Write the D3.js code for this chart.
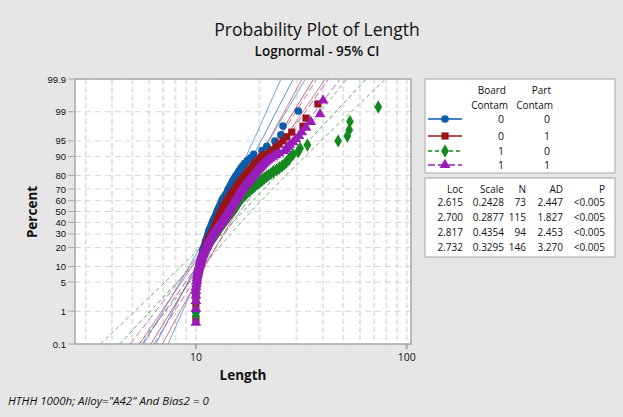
<!DOCTYPE html>
<html><head><meta charset="utf-8">
<script src="https://cdn.jsdelivr.net/npm/d3@7"></script>
<style>
body{margin:0;background:#E6E6E6;}
svg{display:block;}
text{font-family:"Open Sans","Noto Sans",sans-serif;fill:#111;}
text.ytl{font-family:"Liberation Sans",Arial,sans-serif;}
</style></head><body>
<svg id="chart" width="623" height="417"></svg>
<script>
// ---------- data ----------
const boardContam = ["0","0","1","1"];
const partContam  = ["0","1","0","1"];
const locs   = [2.615, 2.700, 2.817, 2.732];
const scales = [0.2428, 0.2877, 0.4354, 0.3295];
const ns     = [73, 115, 94, 146];
const pvals  = ["<0.005","<0.005","<0.005","<0.005"];
const locLabels   = ["2.615","2.700","2.817","2.732"];
const scaleLabels = ["0.2428","0.2877","0.4354","0.3295"];
const adLabels    = ["2.447","1.827","2.453","3.270"];

const lenB0P0 = [10.0,10.0,10.0,10.1,10.1,10.2,10.3,10.35,10.4,10.5,10.6,10.7,10.8,10.8,10.9,11.0,11.1,11.1,11.2,11.3,
 11.35,11.4,11.5,11.5,11.6,11.7,11.8,11.9,11.95,12.0,12.1,12.2,12.3,12.4,12.5,12.55,12.6,12.7,12.8,12.9,
 13.0,13.1,13.2,13.3,13.35,13.5,13.7,13.8,14.0,14.1,14.2,14.3,14.5,14.6,14.8,14.9,15.1,15.3,15.5,15.8,
 16.0,16.3,16.6,17.0,17.5,18.2,18.8,20.6,21.7,23.7,25.3,25.9,30.6];
const lenB0P1 = [10.0,10.0,10.0,10.0,10.1,10.1,10.2,10.2,10.3,10.4,10.4,10.5,10.55,10.6,10.65,10.7,10.75,10.8,10.85,
 10.9,11.0,11.05,11.1,11.15,11.2,11.25,11.3,11.4,11.45,11.5,11.6,11.7,11.75,11.8,11.9,12.0,12.1,12.15,12.2,
 12.25,12.3,12.35,12.4,12.45,12.5,12.55,12.6,12.7,12.75,12.8,12.85,12.9,13.0,13.05,13.1,13.15,13.2,13.3,13.35,
 13.4,13.5,13.55,13.6,13.7,13.8,13.9,13.95,14.0,14.1,14.2,14.3,14.4,14.5,14.6,14.7,14.8,14.9,15.05,15.2,
 15.3,15.4,15.5,15.7,15.8,15.9,16.0,16.2,16.4,16.5,16.7,16.9,17.1,17.3,17.5,17.7,17.9,18.2,18.5,18.7,
 19.0,19.3,19.7,20.1,20.5,21.0,22.4,23.2,24.0,24.8,25.9,27.0,28.5,32.2,33.3,37.9];
const lenB1P0 = [10.0,10.0,10.0,10.05,10.1,10.1,10.15,10.2,10.3,10.45,10.55,10.65,10.75,10.85,10.95,11.05,11.15,11.25,11.4,11.5,
 11.6,11.7,11.8,11.9,12.05,12.15,12.3,12.4,12.5,12.65,12.75,12.9,13.0,13.1,13.25,13.35,13.5,13.6,13.75,13.9,
 14.0,14.15,14.25,14.4,14.5,14.65,14.8,14.95,15.1,15.25,15.4,15.5,15.65,15.8,15.95,16.05,16.2,16.35,16.5,16.7,
 16.9,17.1,17.4,17.6,17.9,18.2,18.5,18.8,19.1,19.5,19.9,20.3,20.7,21.1,21.6,22.1,22.7,23.3,24.1,24.9,
 25.6,26.3,26.9,27.6,28.0,28.9,30.5,31.2,33.8,47.3,52.3,53.4,53.8,73.3];
const lenB1P1 = [10.0,10.0,10.0,10.0,10.0,10.0,10.05,10.1,10.1,10.15,10.2,10.2,10.25,10.3,10.35,10.4,10.45,10.5,10.55,10.6,
 10.65,10.7,10.75,10.8,10.85,10.9,10.95,11.0,11.1,11.15,11.2,11.25,11.3,11.35,11.4,11.5,11.55,11.6,11.7,11.75,
 11.8,11.9,11.95,12.0,12.1,12.2,12.25,12.3,12.4,12.5,12.55,12.65,12.7,12.8,12.85,12.95,13.0,13.1,13.2,13.25,
 13.3,13.4,13.5,13.55,13.6,13.7,13.75,13.85,13.9,14.0,14.05,14.1,14.2,14.3,14.35,14.4,14.5,14.55,14.6,14.7,
 14.75,14.8,14.9,15.0,15.05,15.1,15.2,15.25,15.3,15.4,15.5,15.55,15.65,15.75,15.8,15.9,16.0,16.1,16.2,16.25,
 16.4,16.5,16.6,16.7,16.8,16.95,17.1,17.2,17.35,17.5,17.6,17.8,17.9,18.1,18.3,18.4,18.6,18.8,18.9,19.1,
 19.3,19.5,19.7,20.0,20.3,20.6,20.9,21.2,21.6,22.0,22.6,23.2,23.9,24.8,26.2,26.7,27.3,27.9,28.9,29.8,
 30.8,31.8,33.3,35.1,38.8,40.1];

const yTicks = [0.1,1,5,10,20,30,40,50,60,70,80,90,95,99,99.9];
const yTickLabels = ["0.1","1","5","10","20","30","40","50","60","70","80","90","95","99","99.9"];
const xTicks = [10,100];
const xGrid = [3,4,5,6,7,8,9,10,20,30,40,50,60,70,80,90,100];

// ---------- styles ----------
const markColors = ["#0B5CAB","#9A1518","#13891F","#9A1DB9"];
const lineColors = ["#4F88CF","#C0585C","#3FA64A","#B054D0"];
const dashes = [null, null, "4,3", "7,3"];
const symbols = [d3.symbolCircle, d3.symbolSquare, d3.symbolDiamond, d3.symbolTriangle];
const symSizes = [46, 52, 52, 50];
const datasets = [lenB0P0, lenB0P1, lenB1P0, lenB1P1];

function probit(p){
 const a=[-3.969683028665376e+01,2.209460984245205e+02,-2.759285104469687e+02,1.383577518672690e+02,-3.066479806614716e+01,2.506628277459239e+00];
 const b=[-5.447609879822406e+01,1.615858368580409e+02,-1.556989798598866e+02,6.680131188771972e+01,-1.328068155288572e+01];
 const c=[-7.784894002430293e-03,-3.223964580411365e-01,-2.400758277161838e+00,-2.549732539343734e+00,4.374664141464968e+00,2.938163982698783e+00];
 const d=[7.784695709041462e-03,3.224671290700398e-01,2.445134137142996e+00,3.754408661907416e+00];
 const pl=0.02425, ph=1-pl; let q,r;
 if(p<pl){q=Math.sqrt(-2*Math.log(p));return (((((c[0]*q+c[1])*q+c[2])*q+c[3])*q+c[4])*q+c[5])/((((d[0]*q+d[1])*q+d[2])*q+d[3])*q+1);}
 if(p<=ph){q=p-0.5;r=q*q;return (((((a[0]*r+a[1])*r+a[2])*r+a[3])*r+a[4])*r+a[5])*q/(((((b[0]*r+b[1])*r+b[2])*r+b[3])*r+b[4])*r+1);}
 q=Math.sqrt(-2*Math.log(1-p));return -(((((c[0]*q+c[1])*q+c[2])*q+c[3])*q+c[4])*q+c[5])/((((d[0]*q+d[1])*q+d[2])*q+d[3])*q+1);
}

const svg = d3.select("#chart");
const L=75, R=411, T=79, B=344;
const zMax = probit(0.999);
const x = d3.scaleLog().domain([2.67,104.8]).range([L,R]);
const y = d3.scaleLinear().domain([-zMax,zMax]).range([B,T]);
const yp = p => y(probit(p/100));

svg.append("rect").attr("width",623).attr("height",417).attr("fill","#E6E6E6");

// titles
svg.append("text").attr("x",317).attr("y",36).attr("text-anchor","middle").style("font-size","17.5px").text("Probability Plot of Length");
svg.append("text").attr("x",317).attr("y",56).attr("text-anchor","middle").style("font-size","13.5px").style("font-weight","600").text("Lognormal - 95% CI");

// plot area
svg.append("rect").attr("x",L).attr("y",T).attr("width",R-L).attr("height",B-T).attr("fill","#fff");
svg.append("defs").append("clipPath").attr("id","clip").append("rect").attr("x",L).attr("y",T).attr("width",R-L).attr("height",B-T);

const grid = svg.append("g");
grid.selectAll("line.v").data(xGrid).join("line").attr("class","v")
 .attr("x1",d=>x(d)).attr("x2",d=>x(d)).attr("y1",T).attr("y2",B)
 .attr("stroke","#E2E2E2").attr("stroke-width",2).attr("stroke-dasharray","5,3");
grid.selectAll("line.h").data(yTicks).join("line").attr("class","h")
 .attr("x1",L).attr("x2",R).attr("y1",d=>yp(d)).attr("y2",d=>yp(d))
 .attr("stroke","#D6D6D6").attr("stroke-width",1).attr("stroke-dasharray","6,4");

// fitted lines & CI
const zs = d3.range(0,61).map(i=>-zMax + i*(2*zMax/60));
const lines = svg.append("g").attr("clip-path","url(#clip)");
datasets.forEach((ds,g)=>{
  const mu=locs[g], s=scales[g], n=ns[g];
  const mk = k => zs.map(z=>{
    const se = s*Math.sqrt(1/n + z*z/(2*n));
    return [Math.exp(mu + s*z + k*1.96*se), z];
  });
  [-1,0,1].forEach(k=>{
    lines.append("path").datum(mk(k))
     .attr("d", d3.line().x(d=>x(d[0])).y(d=>y(d[1])))
     .attr("fill","none").attr("stroke",lineColors[g])
     .attr("stroke-width",1).attr("stroke-opacity",k===0?0.95:0.8)
     .attr("stroke-dasharray",dashes[g]);
  });
});

// points
const pts = svg.append("g").attr("clip-path","url(#clip)");
datasets.forEach((ds,g)=>{
  const n = ds.length;
  const sorted = ds.slice().sort(d3.ascending);
  pts.selectAll(null).data(sorted).join("path")
   .attr("transform",(d,i)=>`translate(${x(d)},${y(probit((i+1-0.3)/(n+0.4)))})`)
   .attr("d", d3.symbol().type(symbols[g]).size(symSizes[g]))
   .attr("fill",markColors[g]);
});

// frame
svg.append("rect").attr("x",L).attr("y",T).attr("width",R-L).attr("height",B-T)
 .attr("fill","none").attr("stroke","#A8A8A8").attr("stroke-width",1.5);

// y axis ticks
const ya = svg.append("g");
ya.selectAll("line").data(yTicks).join("line")
 .attr("x1",68).attr("x2",L).attr("y1",d=>yp(d)).attr("y2",d=>yp(d)).attr("stroke","#A8A8A8");
ya.selectAll("text").data(yTicks).join("text").attr("class","ytl")
 .attr("x",66).attr("y",d=>yp(d)+3.5).attr("text-anchor","end").style("font-size","9.5px")
 .text((d,i)=>yTickLabels[i]);
// x axis ticks
const xa = svg.append("g");
xa.selectAll("line").data(xTicks).join("line")
 .attr("x1",d=>x(d)).attr("x2",d=>x(d)).attr("y1",B).attr("y2",B+5).attr("stroke","#A8A8A8").attr("stroke-width",2);
xa.selectAll("text").data(xTicks).join("text")
 .attr("x",d=>x(d)).attr("y",B+17).attr("text-anchor","middle").style("font-size","10.5px")
 .text(d=>d3.format("d")(d));

svg.append("text").attr("x",(L+R)/2).attr("y",380).attr("text-anchor","middle")
 .style("font-size","13.5px").style("font-weight","700").text("Length");
svg.append("text").attr("transform","translate(37,212) rotate(-90)").attr("text-anchor","middle")
 .style("font-size","13.5px").style("font-weight","700").text("Percent");

svg.append("text").attr("x",8).attr("y",405).style("font-size","11.5px").style("font-style","italic")
 .text('HTHH 1000h; Alloy="A42" And Bias2 = 0');

// legend box
const lg = svg.append("g");
lg.append("rect").attr("x",425).attr("y",79).attr("width",190).attr("height",94)
 .attr("fill","#fff").attr("stroke","#A8A8A8");
lg.append("text").attr("x",506).attr("y",94).attr("text-anchor","end").style("font-size","10px").text("Board");
lg.append("text").attr("x",551).attr("y",94).attr("text-anchor","end").style("font-size","10px").text("Part");
lg.append("text").attr("x",508).attr("y",109).attr("text-anchor","end").style("font-size","10px").text("Contam");
lg.append("text").attr("x",553).attr("y",109).attr("text-anchor","end").style("font-size","10px").text("Contam");
const rowY = [119,136,151,165];
datasets.forEach((ds,g)=>{
  lg.append("line").attr("x1",428).attr("x2",462).attr("y1",rowY[g]).attr("y2",rowY[g])
   .attr("stroke",markColors[g]).attr("stroke-width",1.3).attr("stroke-dasharray",dashes[g]);
  lg.append("path").attr("transform",`translate(445,${rowY[g]})`)
   .attr("d",d3.symbol().type(symbols[g]).size(symSizes[g])).attr("fill",markColors[g]);
  lg.append("text").attr("x",504).attr("y",rowY[g]+4).attr("text-anchor","end").style("font-size","10.5px").text(boardContam[g]);
  lg.append("text").attr("x",550).attr("y",rowY[g]+4).attr("text-anchor","end").style("font-size","10.5px").text(partContam[g]);
});

// stats table
const st = svg.append("g");
st.append("rect").attr("x",425).attr("y",178).attr("width",190).attr("height",79)
 .attr("fill","#fff").attr("stroke","#A8A8A8");
const colX = [463,504,526,563,605];
const heads = ["Loc","Scale","N","AD","P"];
heads.forEach((h,j)=>st.append("text").attr("x",colX[j]).attr("y",193).attr("text-anchor","end").style("font-size","10px").text(h));
const statY = [205.5,220.5,235.5,250.5];
datasets.forEach((ds,g)=>{
  const vals=[locLabels[g],scaleLabels[g],String(ns[g]),adLabels[g],pvals[g]];
  vals.forEach((v,j)=>st.append("text").attr("x",colX[j]).attr("y",statY[g]).attr("text-anchor","end").style("font-size","10px").text(v));
});
</script>
</body></html>
